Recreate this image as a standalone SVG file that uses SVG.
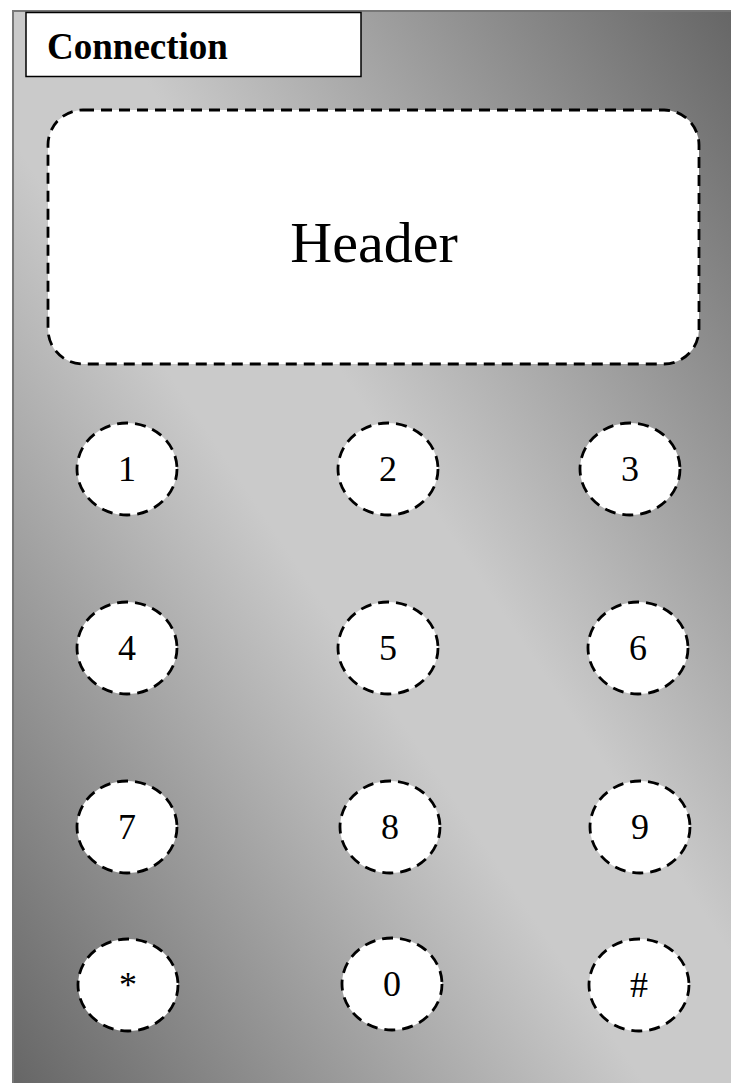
<svg xmlns="http://www.w3.org/2000/svg" width="731" height="1083" viewBox="0 0 731 1083">
<defs>
<linearGradient id="bg" x1="1" y1="0" x2="0" y2="1">
<stop offset="0" stop-color="#666666"/>
<stop offset="0.44" stop-color="#cacaca"/>
<stop offset="0.56" stop-color="#cacaca"/>
<stop offset="1" stop-color="#666666"/>
</linearGradient>
<style>
.key{fill:#ffffff;stroke:#000000;stroke-width:2.8;stroke-dasharray:11 7}
.lbl{font-family:"Liberation Serif","Times New Roman",serif;font-size:36px;fill:#000000;text-anchor:middle}
</style>
</defs>
<g id="background">
<rect x="12" y="10" width="719" height="1073" fill="url(#bg)"/>
<polyline points="13,1083 13,11 731,11" fill="none" stroke="#777777" stroke-width="2"/>
</g>
<g id="connection">
<rect x="26" y="12.5" width="335" height="64" fill="#ffffff" stroke="#000000" stroke-width="1.5"/>
<text x="47" y="59" font-family="Liberation Serif,'Times New Roman',serif" font-weight="bold" font-size="37" fill="#000000">Connection</text>
</g>
<g id="header">
<rect x="48" y="110" width="651" height="254" rx="35" ry="35" class="key"/>
<text x="374" y="262" font-family="Liberation Serif,'Times New Roman',serif" font-size="58" text-anchor="middle" fill="#000000">Header</text>
</g>
<g id="key1"><ellipse cx="127" cy="469" rx="50" ry="46" class="key"/><text x="127" y="481" class="lbl">1</text></g>
<g id="key2"><ellipse cx="388" cy="469" rx="50" ry="46" class="key"/><text x="388" y="481" class="lbl">2</text></g>
<g id="key3"><ellipse cx="630" cy="469" rx="50" ry="46" class="key"/><text x="630" y="481" class="lbl">3</text></g>
<g id="key4"><ellipse cx="127" cy="648" rx="50" ry="46" class="key"/><text x="127" y="660" class="lbl">4</text></g>
<g id="key5"><ellipse cx="388" cy="648" rx="50" ry="46" class="key"/><text x="388" y="660" class="lbl">5</text></g>
<g id="key6"><ellipse cx="638" cy="648" rx="50" ry="46" class="key"/><text x="638" y="660" class="lbl">6</text></g>
<g id="key7"><ellipse cx="127" cy="827" rx="50" ry="46" class="key"/><text x="127" y="839" class="lbl">7</text></g>
<g id="key8"><ellipse cx="390" cy="827" rx="50" ry="46" class="key"/><text x="390" y="839" class="lbl">8</text></g>
<g id="key9"><ellipse cx="640" cy="827" rx="50" ry="46" class="key"/><text x="640" y="839" class="lbl">9</text></g>
<g id="keystar"><ellipse cx="128" cy="985" rx="50" ry="46" class="key"/><text x="128" y="997" class="lbl">*</text></g>
<g id="key0"><ellipse cx="392" cy="984" rx="50" ry="46" class="key"/><text x="392" y="996" class="lbl">0</text></g>
<g id="keyhash"><ellipse cx="639" cy="985" rx="50" ry="46" class="key"/><text x="639" y="997" class="lbl">#</text></g>
<g id="connectors"/>
</svg>
